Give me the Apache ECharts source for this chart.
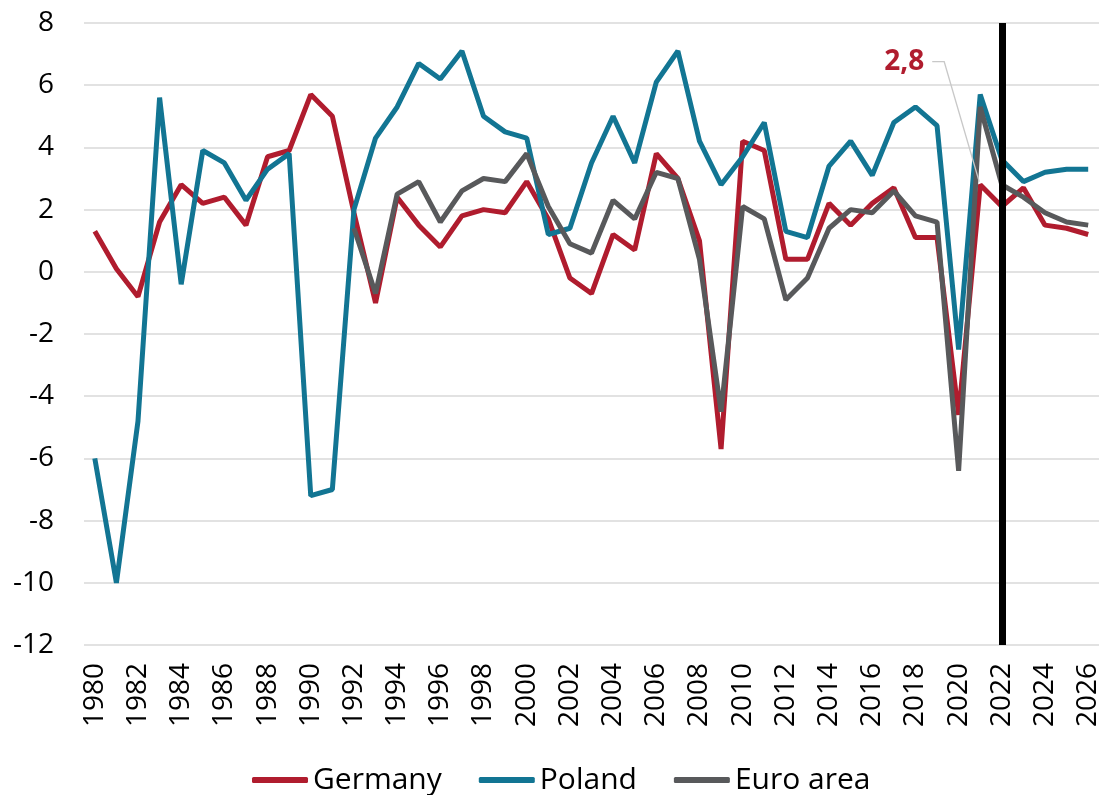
<!DOCTYPE html>
<html><head><meta charset="utf-8">
<script src="https://cdn.jsdelivr.net/npm/echarts@6/dist/echarts.min.js"></script>
<style>html,body{margin:0;padding:0;background:#fff}#c{width:1105px;height:795px}</style>
</head><body><div id="c"></div>
<script>
const years = ['1980','1981','1982','1983','1984','1985','1986','1987','1988','1989',
  '1990','1991','1992','1993','1994','1995','1996','1997','1998','1999',
  '2000','2001','2002','2003','2004','2005','2006','2007','2008','2009',
  '2010','2011','2012','2013','2014','2015','2016','2017','2018','2019',
  '2020','2021','2022','2023','2024','2025','2026'];
const germany = [1.3,0.1,-0.8,1.6,2.8,2.2,2.4,1.5,3.7,3.9,
  5.7,5.0,1.9,-1.0,2.4,1.5,0.8,1.8,2.0,1.9,
  2.9,1.7,-0.2,-0.7,1.2,0.7,3.8,3.0,1.0,-5.7,
  4.2,3.9,0.4,0.4,2.2,1.5,2.2,2.7,1.1,1.1,
  -4.6,2.8,2.1,2.7,1.5,1.4,1.2];
const poland = [-6.0,-10.0,-4.8,5.6,-0.4,3.9,3.5,2.3,3.3,3.8,
  -7.2,-7.0,2.0,4.3,5.3,6.7,6.2,7.1,5.0,4.5,
  4.3,1.2,1.4,3.5,5.0,3.5,6.1,7.1,4.2,2.8,
  3.7,4.8,1.3,1.1,3.4,4.2,3.1,4.8,5.3,4.7,
  -2.5,5.7,3.6,2.9,3.2,3.3,3.3];
const euroArea = [null,null,null,null,null,null,null,null,null,null,
  null,null,1.4,-0.7,2.5,2.9,1.6,2.6,3.0,2.9,
  3.8,2.1,0.9,0.6,2.3,1.7,3.2,3.0,0.4,-4.5,
  2.1,1.7,-0.9,-0.2,1.4,2.0,1.9,2.6,1.8,1.6,
  -6.4,5.3,2.8,2.4,1.9,1.6,1.5];
const yTicks = {min: -12, max: 8, interval: 2};
const markerYear = '2022';
const annotatedYear = '2021';
const annotationText = '2,8';

const FONT = "'Open Sans', sans-serif";
const annIdx = years.indexOf(annotatedYear);

const chart = echarts.init(document.getElementById('c'), null, {renderer: 'canvas'});
chart.setOption({
  animation: false,
  backgroundColor: '#fff',
  grid: {left: 84, right: 6, top: 23, bottom: 150, containLabel: false},
  legend: {
    left: 247, top: 760,
    data: ['Germany', 'Poland', 'Euro area'],
    icon: 'roundRect', itemWidth: 56, itemHeight: 6, itemGap: 37,
    textStyle: {fontFamily: FONT, fontSize: 30, color: '#000'}
  },
  xAxis: {
    type: 'category', data: years, boundaryGap: true,
    axisLine: {show: false}, axisTick: {show: false},
    axisLabel: {rotate: 90, interval: 1, margin: 18, fontFamily: FONT, fontSize: 28, color: '#000'}
  },
  yAxis: {
    type: 'value', min: yTicks.min, max: yTicks.max, interval: yTicks.interval,
    axisLine: {show: false}, axisTick: {show: false},
    splitLine: {lineStyle: {color: '#d9d9d9', width: 1.5}},
    axisLabel: {margin: 30, fontFamily: FONT, fontSize: 28, color: '#000'}
  },
  series: [
    {name: 'Germany', type: 'line', data: germany, symbol: 'none',
     itemStyle: {color: '#B01C2E'}, lineStyle: {color: '#B01C2E', width: 5}, z: 2},
    {name: 'Poland', type: 'line', data: poland, symbol: 'none',
     itemStyle: {color: '#127593'}, lineStyle: {color: '#127593', width: 5}, z: 3},
    {name: 'Euro area', type: 'line', data: euroArea, symbol: 'none', connectNulls: false,
     itemStyle: {color: '#58595B'}, lineStyle: {color: '#58595B', width: 5}, z: 4},
    {name: 'marker', type: 'line', data: [], symbol: 'none', z: 10,
     markLine: {silent: true, symbol: 'none', label: {show: false},
       lineStyle: {color: '#000', width: 7, type: 'solid'},
       data: [{xAxis: markerYear}]}}
  ]
});

// Annotation anchored to the Germany data point via the library's scales
const pt = chart.convertToPixel({gridIndex: 0}, [annIdx, germany[annIdx]]);
const tx = pt[0] - 76, ty = pt[1] - 123;
chart.setOption({
  graphic: [
    {type: 'polyline', z: 5, silent: true,
     shape: {points: [[tx + 28, ty], [tx + 40, ty], [pt[0] - 1, pt[1] - 3]]},
     style: {stroke: '#c8c8c8', lineWidth: 1.3, fill: null}},
    {type: 'text', z: 20, silent: true, x: tx, y: ty,
     style: {text: annotationText, fill: '#B01C2E', font: "bold 28px 'Open Sans', sans-serif",
       align: 'center', verticalAlign: 'middle'}}
  ]
});
</script></body></html>
